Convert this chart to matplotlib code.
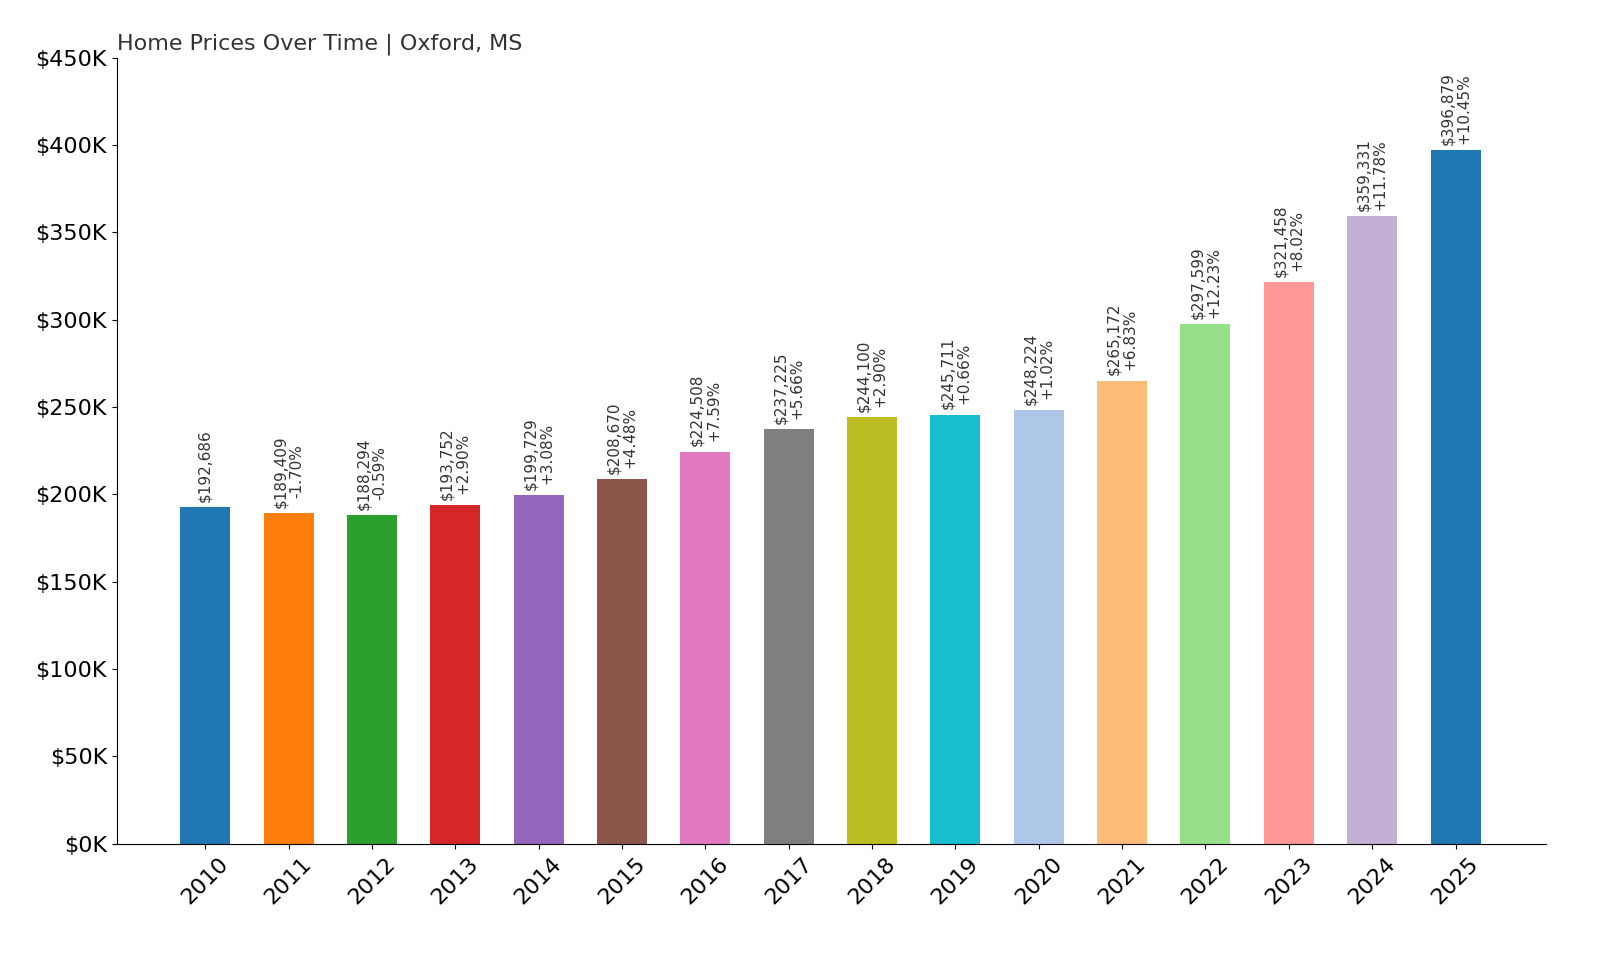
import matplotlib
matplotlib.use("Agg")
import matplotlib.pyplot as plt
from matplotlib.ticker import FuncFormatter

years = ["2010","2011","2012","2013","2014","2015","2016","2017","2018","2019","2020","2021","2022","2023","2024","2025"]
prices = [192686,189409,188294,193752,199729,208670,224508,237225,244100,245711,248224,265172,297599,321458,359331,396879]
changes = [None,"-1.70%","-0.59%","+2.90%","+3.08%","+4.48%","+7.59%","+5.66%","+2.90%","+0.66%","+1.02%","+6.83%","+12.23%","+8.02%","+11.78%","+10.45%"]
colors = ["#1f77b4","#ff7f0e","#2ca02c","#d62728","#9467bd","#8c564b","#e377c2","#7f7f7f",
          "#bcbd22","#17becf","#aec7e8","#ffbb78","#98df8a","#ff9896","#c5b0d5","#1f77b4"]

fig = plt.figure(figsize=(16, 9.6), dpi=100)
ax = fig.add_axes([0.073, 0.121, 0.893, 0.819])
x = range(len(years))
ax.bar(x, prices, width=0.6, color=colors)
for i, (p, c) in enumerate(zip(prices, changes)):
    txt = f"${p:,}" if c is None else f"${p:,}\n{c}"
    ax.text(i, p + 3000, txt, rotation=90, ha="center", va="bottom", fontsize=11, color="#333333", linespacing=1.1)
ax.set_xticks(list(x))
ax.set_xticklabels(years, rotation=45, fontsize=16)
ax.set_ylim(0, 450000)
ax.set_yticks(range(0, 450001, 50000))
ax.yaxis.set_major_formatter(FuncFormatter(lambda v, _: f"${int(v/1000)}K"))
ax.tick_params(axis="y", labelsize=16)
ax.set_xlim(-1.06, 16.08)
for s in ["top", "right"]:
    ax.spines[s].set_visible(False)
ax.set_title("Home Prices Over Time | Oxford, MS", loc="left", fontsize=16, color="#333333", pad=6)
fig.savefig("out.png")
